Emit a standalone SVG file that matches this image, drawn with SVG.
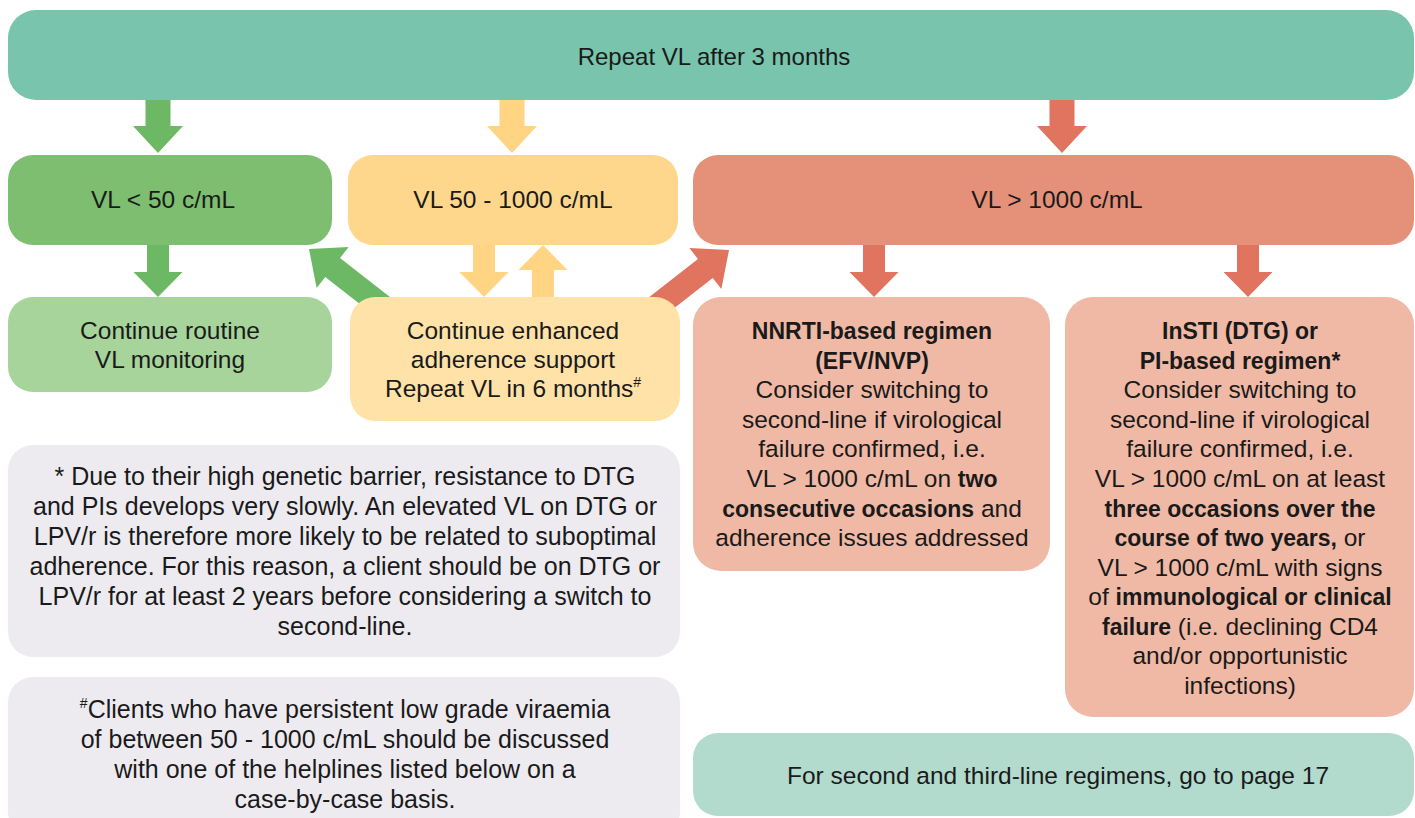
<svg xmlns="http://www.w3.org/2000/svg" width="1415" height="818" viewBox="0 0 1415 818">
<defs>
<style>
text{font-family:"Liberation Sans",Arial,sans-serif;font-size:24.5px;fill:#1a1a1a;text-anchor:middle}
.t{font-size:24px}
.n{font-size:25px}
.b{font-weight:bold;font-size:23px}
.sup{font-size:14px}
.teal{fill:#79C4AC}
.grn{fill:#7DBE70}
.lgrn{fill:#A6D49B}
.yel{fill:#FFD78C}
.lyel{fill:#FFE2A8}
.red{fill:#E5917A}
.lred{fill:#EFB9A5}
.gray{fill:#EDEBF0}
.lteal{fill:#B2DBCE}
.ag{fill:#6DB865}
.ay{fill:#FFD482}
.ar{fill:#E0745E}
</style>
<path id="down" d="M-12.5,0 H12.5 V26 H25 L0,53 L-25,26 H-12.5 Z"/>
<path id="down2" d="M-11,0 H11 V27 H24.5 L0,52 L-24.5,27 H-11 Z"/>
<path id="diag" d="M-110,-12 H-30 V-26 L0,0 L-30,26 V12 H-110 Z"/>
</defs>
<g id="connectors">
<use href="#down" class="ag" x="158" y="100"/>
<use href="#down" class="ay" x="512" y="100"/>
<use href="#down" class="ar" x="1062" y="100"/>
<use href="#down2" class="ag" x="158" y="245"/>
<use href="#down2" class="ay" x="484" y="245"/>
<use href="#down2" class="ay" transform="translate(543,297) rotate(180)"/>
<use href="#down2" class="ar" x="874" y="245"/>
<use href="#down2" class="ar" x="1248" y="245"/>
<use href="#diag" class="ag" transform="translate(309,249) rotate(218)"/>
<use href="#diag" class="ar" transform="translate(729,250) rotate(-38)"/>
</g>
<g id="top">
<rect class="teal" x="8" y="10" width="1406" height="90" rx="28"/>
<text class="t" x="714" y="65">Repeat VL after 3 months</text>
</g>
<g id="vl-low">
<rect class="grn" x="8" y="155" width="324" height="90" rx="25"/>
<text x="163" y="208">VL &lt; 50 c/mL</text>
</g>
<g id="vl-mid">
<rect class="yel" x="348" y="155" width="330" height="90" rx="25"/>
<text x="513" y="208">VL 50 - 1000 c/mL</text>
</g>
<g id="vl-high">
<rect class="red" x="693" y="155" width="721" height="90" rx="25"/>
<text x="1057" y="208">VL &gt; 1000 c/mL</text>
</g>
<g id="routine">
<rect class="lgrn" x="8" y="297" width="324" height="95" rx="25"/>
<text x="170" y="339">Continue routine</text>
<text x="170" y="368">VL monitoring</text>
</g>
<g id="enhanced">
<rect class="lyel" x="350" y="297" width="330" height="124" rx="25"/>
<text x="513" y="339">Continue enhanced</text>
<text x="513" y="368">adherence support</text>
<text x="513" y="397">Repeat VL in 6 months<tspan class="sup" dy="-10">#</tspan></text>
</g>
<g id="nnrti">
<rect class="lred" x="693" y="297" width="357" height="274" rx="28"/>
<text class="b" x="872" y="339">NNRTI-based regimen</text>
<text class="b" x="872" y="368.6">(EFV/NVP)</text>
<text x="872" y="398.2">Consider switching to</text>
<text x="872" y="427.8">second-line if virological</text>
<text x="872" y="457.4">failure confirmed, i.e.</text>
<text x="872" y="487">VL &gt; 1000 c/mL on <tspan class="b">two</tspan></text>
<text x="872" y="516.6"><tspan class="b">consecutive occasions</tspan> and</text>
<text x="872" y="546.2">adherence issues addressed</text>
</g>
<g id="insti">
<rect class="lred" x="1065" y="297" width="349" height="420" rx="28"/>
<text class="b" x="1240" y="339">InSTI (DTG) or</text>
<text class="b" x="1240" y="368.6">PI-based regimen*</text>
<text x="1240" y="398.2">Consider switching to</text>
<text x="1240" y="427.7">second-line if virological</text>
<text x="1240" y="457.3">failure confirmed, i.e.</text>
<text x="1240" y="486.9">VL &gt; 1000 c/mL on at least</text>
<text class="b" x="1240" y="516.5">three occasions over the</text>
<text x="1240" y="546.1"><tspan class="b">course of two years,</tspan> or</text>
<text x="1240" y="575.6">VL &gt; 1000 c/mL with signs</text>
<text x="1240" y="605.2">of <tspan class="b">immunological or clinical</tspan></text>
<text x="1240" y="634.8"><tspan class="b">failure</tspan> (i.e. declining CD4</text>
<text x="1240" y="664.4">and/or opportunistic</text>
<text x="1240" y="694">infections)</text>
</g>
<g id="note-star">
<rect class="gray" x="8" y="445" width="672" height="212" rx="25"/>
<text class="n" x="345" y="485">* Due to their high genetic barrier, resistance to DTG</text>
<text class="n" x="345" y="515">and PIs develops very slowly. An elevated VL on DTG or</text>
<text class="n" x="345" y="545">LPV/r is therefore more likely to be related to suboptimal</text>
<text class="n" x="345" y="575">adherence. For this reason, a client should be on DTG or</text>
<text class="n" x="345" y="605">LPV/r for at least 2 years before considering a switch to</text>
<text class="n" x="345" y="635">second-line.</text>
</g>
<g id="note-hash">
<rect class="gray" x="8" y="677" width="672" height="160" rx="25"/>
<text class="n" x="345" y="718"><tspan class="sup" dy="-10">#</tspan><tspan dy="10">Clients who have persistent low grade viraemia</tspan></text>
<text class="n" x="345" y="748">of between 50 - 1000 c/mL should be discussed</text>
<text class="n" x="345" y="778">with one of the helplines listed below on a</text>
<text class="n" x="345" y="808">case-by-case basis.</text>
</g>
<g id="page-ref">
<rect class="lteal" x="693" y="733" width="721" height="83" rx="25"/>
<text x="1058" y="784">For second and third-line regimens, go to page 17</text>
</g>
</svg>
